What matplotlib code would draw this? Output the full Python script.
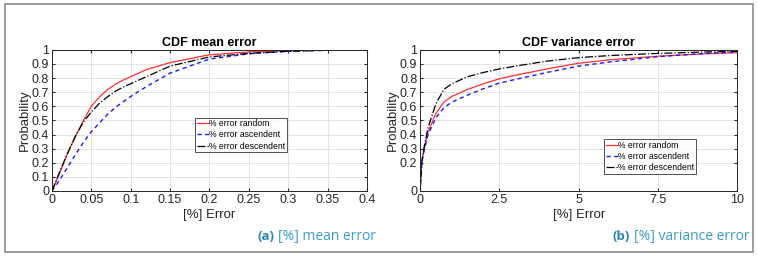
import matplotlib
matplotlib.use('Agg')
import matplotlib.pyplot as plt
from matplotlib.patches import Rectangle

plt.rcParams['font.family'] = ['Liberation Sans', 'DejaVu Sans']

# --- mean error CDF
mean_x = [0, 0.01, 0.02, 0.03, 0.04, 0.05, 0.06, 0.07, 0.08, 0.09, 0.1, 0.12, 0.15, 0.2, 0.25, 0.3, 0.35, 0.4]
mean_random = [0, 0.13, 0.27, 0.39, 0.50, 0.60, 0.665, 0.715, 0.755, 0.785, 0.81, 0.86, 0.91, 0.965, 0.985, 0.995, 0.999, 1.0]
mean_asc = [0, 0.08, 0.17, 0.26, 0.345, 0.42, 0.48, 0.54, 0.59, 0.63, 0.67, 0.74, 0.835, 0.935, 0.972, 0.99, 0.997, 1.0]
mean_desc = [0, 0.14, 0.27, 0.39, 0.49, 0.56, 0.62, 0.665, 0.705, 0.735, 0.76, 0.81, 0.885, 0.95, 0.975, 0.99, 0.997, 1.0]

# --- variance error CDF
var_x = [0, 0.05, 0.1, 0.25, 0.5, 0.75, 1, 1.5, 2, 2.5, 3, 4, 5, 6, 7.5, 9, 10]
var_random = [0, 0.2, 0.27, 0.42, 0.55, 0.63, 0.67, 0.72, 0.76, 0.795, 0.82, 0.865, 0.905, 0.93, 0.955, 0.972, 0.98]
var_asc = [0, 0.19, 0.26, 0.40, 0.52, 0.59, 0.63, 0.68, 0.725, 0.765, 0.79, 0.84, 0.885, 0.915, 0.952, 0.975, 0.985]
var_desc = [0, 0.2, 0.28, 0.45, 0.62, 0.72, 0.76, 0.81, 0.84, 0.865, 0.885, 0.92, 0.945, 0.96, 0.975, 0.985, 0.99]

labels = ['% error random', '% error ascendent', '% error descendent']
mean_xticks = [0, 0.05, 0.1, 0.15, 0.2, 0.25, 0.3, 0.35, 0.4]
mean_xticklabels = ['0', '0.05', '0.1', '0.15', '0.2', '0.25', '0.3', '0.35', '0.4']
mean_yticks = [0, 0.1, 0.2, 0.3, 0.4, 0.5, 0.6, 0.7, 0.8, 0.9, 1]
var_xticks = [0, 2.5, 5, 7.5, 10]
var_xticklabels = ['0', '2.5', '5', '7.5', '10']
var_yticks = [0, 0.2, 0.3, 0.4, 0.5, 0.6, 0.7, 0.8, 0.9, 1]

fig = plt.figure(figsize=(7.57, 2.57), dpi=100)
fig.patches.append(Rectangle((0.007, 0.02), 0.988, 0.965, transform=fig.transFigure,
                             fill=False, edgecolor='#8a8a8a', linewidth=1.2))

ax1 = fig.add_axes([0.0687, 0.257, 0.416, 0.549])
ax2 = fig.add_axes([0.555, 0.257, 0.419, 0.549])


def style(ax, title, xlim, xticks, xticklabels, yticks):
    ax.set_xlim(xlim)
    ax.set_ylim(0, 1)
    ax.set_xticks(xticks)
    ax.set_xticklabels(xticklabels)
    ax.set_yticks(yticks)
    ax.set_yticklabels([f'{t:g}' for t in yticks])
    ax.grid(True, color='#e3e3e3', linewidth=0.7)
    ax.set_axisbelow(True)
    ax.tick_params(direction='in', length=2, labelsize=9, colors='#262626',
                   top=True, right=True, pad=2)
    for s in ax.spines.values():
        s.set_color('#262626')
        s.set_linewidth(0.7)
    ax.set_title(title, fontsize=9, fontweight='bold', pad=3)
    ax.set_xlabel('[%] Error', fontsize=9.5, labelpad=2, color='#262626')
    ax.set_ylabel('Probability', fontsize=9.5, labelpad=1, color='#262626')


def legend(ax, anchor):
    leg = ax.legend(loc='upper left', bbox_to_anchor=anchor, fontsize=6.2,
                    frameon=True, fancybox=False, edgecolor='#262626',
                    handlelength=1.4, handletextpad=0.05, borderpad=0.2,
                    labelspacing=0.25, borderaxespad=0)
    leg.get_frame().set_linewidth(0.7)
    return leg


def curves(ax, x, rnd, asc, desc):
    ax.plot(x, rnd, color='#ff3030', lw=0.9, label=labels[0])
    ax.plot(x, asc, color='#1a1aff', lw=1.0, ls=(0, (3, 2.5)), label=labels[1])
    ax.plot(x, desc, color='black', lw=0.9, ls='-.', label=labels[2])


curves(ax1, mean_x, mean_random, mean_asc, mean_desc)
style(ax1, 'CDF mean error', (0, 0.4), mean_xticks, mean_xticklabels, mean_yticks)
legend(ax1, (0.455, 0.52))

curves(ax2, var_x, var_random, var_asc, var_desc)
style(ax2, 'CDF variance error', (0, 10), var_xticks, var_xticklabels, var_yticks)
legend(ax2, (0.58, 0.365))

# captions: "(x)" in bold right before the text
cap = '#3a9cc8'
cap_font = ['Open Sans', 'DejaVu Sans']
fig.canvas.draw()
renderer = fig.canvas.get_renderer()
for xr, tag, txt in [(0.497, '(a)', '[%] mean error'), (0.990, '(b)', '[%] variance error')]:
    t = fig.text(xr, 0.065, txt, ha='right', va='baseline', fontsize=10,
                 color=cap, family=cap_font)
    bb = t.get_window_extent(renderer)
    x_left = fig.transFigure.inverted().transform((bb.x0 - 4, 0))[0]
    fig.text(x_left, 0.065, tag, ha='right', va='baseline', fontsize=9.5,
             fontweight='bold', color='#2a86b0', family=cap_font)

fig.savefig('out.png', dpi=100)
